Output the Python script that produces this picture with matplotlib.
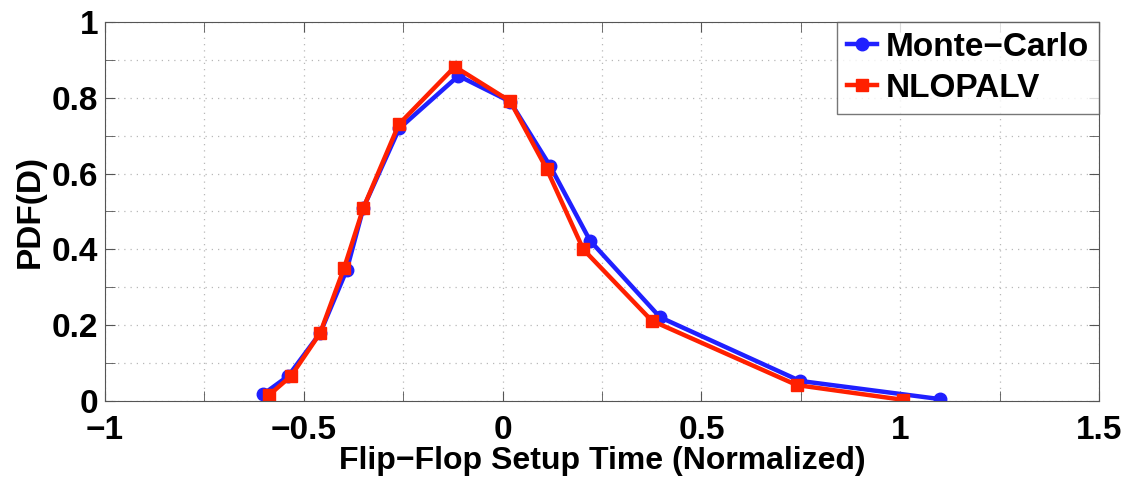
import numpy as np
import matplotlib
matplotlib.use('Agg')
import matplotlib.pyplot as plt
from matplotlib.ticker import MultipleLocator

# 데이터
mc_x = [-0.602, -0.539, -0.459, -0.392, -0.350, -0.260, -0.111, 0.019, 0.119, 0.220, 0.396, 0.748, 1.100]
mc_y = [0.018, 0.066, 0.179, 0.346, 0.510, 0.719, 0.858, 0.790, 0.621, 0.423, 0.221, 0.053, 0.005]
nl_x = [-0.587, -0.532, -0.459, -0.399, -0.350, -0.261, -0.120, 0.019, 0.111, 0.203, 0.375, 0.740, 1.008]
nl_y = [0.016, 0.066, 0.179, 0.350, 0.510, 0.730, 0.882, 0.791, 0.612, 0.400, 0.212, 0.042, 0.003]

plt.rcParams['font.family'] = ['Liberation Sans', 'DejaVu Sans']
plt.rcParams['font.weight'] = 'bold'

fig = plt.figure(figsize=(11.37, 4.86), dpi=100)
ax = fig.add_axes([105/1137, 1 - 401/486, (1099-105)/1137, (401-22)/486])

ax.plot(mc_x, mc_y, '-o', color='#2020ff', lw=3.2, ms=9, label='Monte\u2212Carlo')
ax.plot(nl_x, nl_y, '-s', color='#ff2000', lw=3.2, ms=8, label='NLOPALV')

ax.set_xlim(-1, 1.5)
ax.set_ylim(0, 1)
ax.xaxis.set_major_locator(MultipleLocator(0.5))
ax.xaxis.set_minor_locator(MultipleLocator(0.25))
ax.yaxis.set_major_locator(MultipleLocator(0.2))
ax.yaxis.set_minor_locator(MultipleLocator(0.1))
ax.xaxis.set_major_formatter(plt.FuncFormatter(lambda v, p: f'{v:g}'.replace('-', '\u2212')))
ax.yaxis.set_major_formatter(plt.FuncFormatter(lambda v, p: f'{v:g}'))
ax.grid(True, which='both', ls=(0, (1, 4)), color='#b8b8b8', lw=0.9)
ax.tick_params(which='both', direction='in', top=True, right=True, color='#555555')
ax.tick_params(which='major', length=7, labelsize=24)
ax.tick_params(axis='x', pad=10)
ax.tick_params(axis='y', pad=5)
ax.tick_params(which='minor', length=7)
for s in ax.spines.values():
    s.set_color('#555555')

ax.set_xlabel('Flip\u2212Flop Setup Time (Normalized)', fontsize=23, fontweight='bold', labelpad=0)
ax.set_ylabel('PDF(D)', fontsize=24, fontweight='bold', labelpad=4)

leg = ax.legend(loc='upper right', fontsize=24, borderaxespad=0, fancybox=False,
                edgecolor='#555555', handlelength=0.9, handletextpad=0.25,
                borderpad=0.3, labelspacing=0.3)
leg.get_frame().set_linewidth(1.0)
for t in leg.get_texts():
    t.set_fontweight('bold')

fig.savefig('out.png', dpi=100)
